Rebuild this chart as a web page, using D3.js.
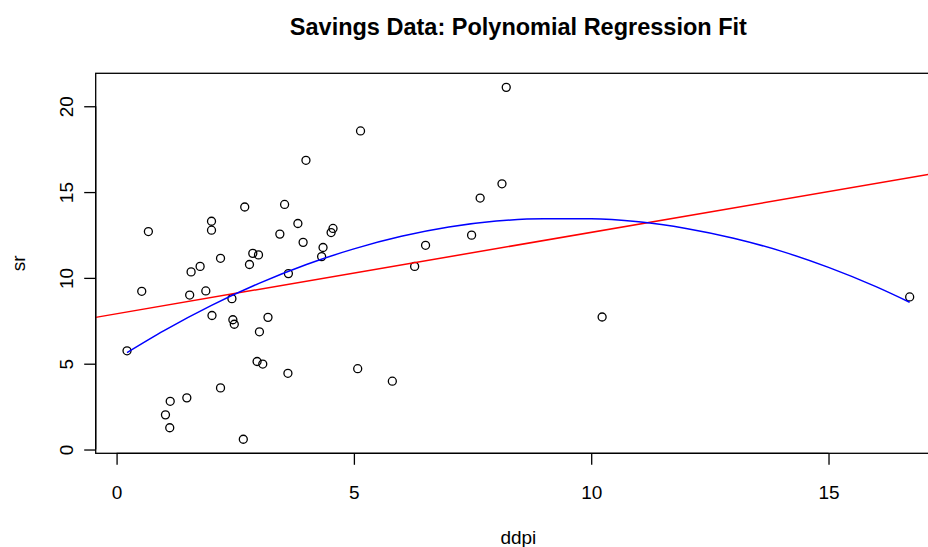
<!DOCTYPE html>
<html>
<head>
<meta charset="utf-8">
<script src="https://cdn.jsdelivr.net/npm/d3@7"></script>
<style>
  body { margin: 0; background: #fff; }
  text { font-family: "Liberation Sans", Arial, sans-serif; }
</style>
</head>
<body>
<div id="chart"></div>
<script>
// LifeCycleSavings: growth rate of disposable income (ddpi) vs savings ratio (sr)
const ddpi = [2.87, 3.93, 3.82, 0.22, 4.56, 2.43, 2.67, 6.51, 3.08, 2.80,
    3.99, 2.19, 4.32, 4.52, 3.44, 6.28, 1.48, 3.19, 1.12, 1.54,
    2.99, 3.54, 8.21, 5.81, 1.57, 8.12, 3.62, 7.66, 1.76, 2.48,
    3.61, 1.03, 0.67, 2.00, 7.48, 2.19, 2.00, 4.35, 3.01, 2.70,
    2.96, 1.13, 2.01, 2.45, 0.53, 5.14, 10.23, 1.88, 16.71, 5.08];
const sr = [11.43, 12.07, 13.17, 5.75, 12.88, 8.79, 0.60, 11.90, 4.98, 10.78,
    16.85, 3.59, 11.24, 12.64, 12.55, 10.67, 3.01, 7.70, 1.27, 9.00,
    11.34, 14.28, 21.10, 3.98, 10.35, 15.48, 10.25, 14.65, 10.67, 7.30,
    4.44, 2.02, 12.70, 12.78, 12.49, 11.14, 13.30, 11.77, 6.86, 14.13,
    5.13, 2.81, 7.81, 7.56, 9.22, 18.56, 7.72, 9.24, 8.89, 4.71];

// blue polynomial fit
const polyX = [0.22, 1, 2, 3, 4, 5, 6, 7, 8, 9, 10, 11, 12, 13, 14, 15, 16, 16.71];
const polyY = [5.65, 6.93, 8.40, 9.68, 10.78, 11.69, 12.42, 12.96, 13.31, 13.45,
    13.45, 13.27, 12.88, 12.31, 11.56, 10.61, 9.49, 8.58];

// red straight-line fit, ends at the plot edges
const lineX = [-0.44, 17.37];
const lineY = [7.70, 16.15];

const xTicks = [0, 5, 10, 15];
const yTicks = [0, 5, 10, 15, 20];

// Set up the dimensions
const W = 928, H = 547;
const margin = { top: 73.3, left: 95.7 };
const width = 845.3;   // the right edge of the box falls outside the window
const height = 380;

const svg = d3.select("#chart")
    .append("svg")
    .attr("width", W)
    .attr("height", H);

const g = svg.append("g")
    .attr("transform", `translate(${margin.left},${margin.top})`);

// Scales
const x = d3.scaleLinear().domain([-0.44, 17.37]).range([0, width]);
const y = d3.scaleLinear().domain([-0.22, 21.92]).range([height, 0]);

// Axes
const xAxis = g.append("g")
    .attr("transform", `translate(0,${height})`)
    .call(d3.axisBottom(x).tickValues(xTicks).tickSize(11.5).tickFormat(d3.format("d")));
xAxis.select(".domain")
    .attr("d", `M${x(0)},0H${x(15)}`);
xAxis.selectAll("text")
    .attr("dy", null)
    .attr("y", 45.7)
    .style("font-size", "19px")
    .attr("fill", "#000");

const yAxis = g.append("g")
    .call(d3.axisLeft(y).tickValues(yTicks).tickSize(11.5).tickFormat(d3.format("d")));
yAxis.select(".domain")
    .attr("d", `M0,${y(0)}V${y(20)}`);
yAxis.selectAll("text")
    .attr("x", 0)
    .attr("y", 0)
    .attr("dy", null)
    .attr("text-anchor", "middle")
    .attr("transform", "translate(-23,0) rotate(-90)")
    .style("font-size", "19px")
    .attr("fill", "#000");

g.selectAll(".tick line, .domain")
    .attr("stroke", "#000")
    .attr("stroke-width", 1.3);

// Clip for the fitted lines
g.append("clipPath")
    .attr("id", "plotclip")
    .append("rect")
    .attr("width", width)
    .attr("height", height);

// Points
g.selectAll(".pt")
    .data(ddpi.map((d, i) => ({ x: d, y: sr[i] })))
    .enter()
    .append("circle")
    .attr("class", "pt")
    .attr("cx", d => x(d.x))
    .attr("cy", d => y(d.y))
    .attr("r", 4)
    .attr("fill", "none")
    .attr("stroke", "#000")
    .attr("stroke-width", 1.3);

// Straight fit
g.append("path")
    .datum(lineX.map((d, i) => [d, lineY[i]]))
    .attr("clip-path", "url(#plotclip)")
    .attr("fill", "none")
    .attr("stroke", "#ff0000")
    .attr("stroke-width", 1.5)
    .attr("d", d3.line().x(d => x(d[0])).y(d => y(d[1])));

// Polynomial fit
g.append("path")
    .datum(polyX.map((d, i) => [d, polyY[i]]))
    .attr("clip-path", "url(#plotclip)")
    .attr("fill", "none")
    .attr("stroke", "#0000ff")
    .attr("stroke-width", 1.5)
    .attr("d", d3.line().curve(d3.curveMonotoneX).x(d => x(d[0])).y(d => y(d[1])));

// Box
g.append("rect")
    .attr("width", width)
    .attr("height", height)
    .attr("fill", "none")
    .attr("stroke", "#000")
    .attr("stroke-width", 1.3);

// Title and axis labels
svg.append("text")
    .attr("x", margin.left + width / 2)
    .attr("y", 35)
    .attr("text-anchor", "middle")
    .style("font-size", "23.5px")
    .style("font-weight", "bold")
    .text("Savings Data: Polynomial Regression Fit");

svg.append("text")
    .attr("x", margin.left + width / 2)
    .attr("y", 544)
    .attr("text-anchor", "middle")
    .style("font-size", "19px")
    .text("ddpi");

svg.append("text")
    .attr("transform", `translate(25,${margin.top + height / 2}) rotate(-90)`)
    .attr("text-anchor", "middle")
    .style("font-size", "19px")
    .text("sr");
</script>
</body>
</html>
